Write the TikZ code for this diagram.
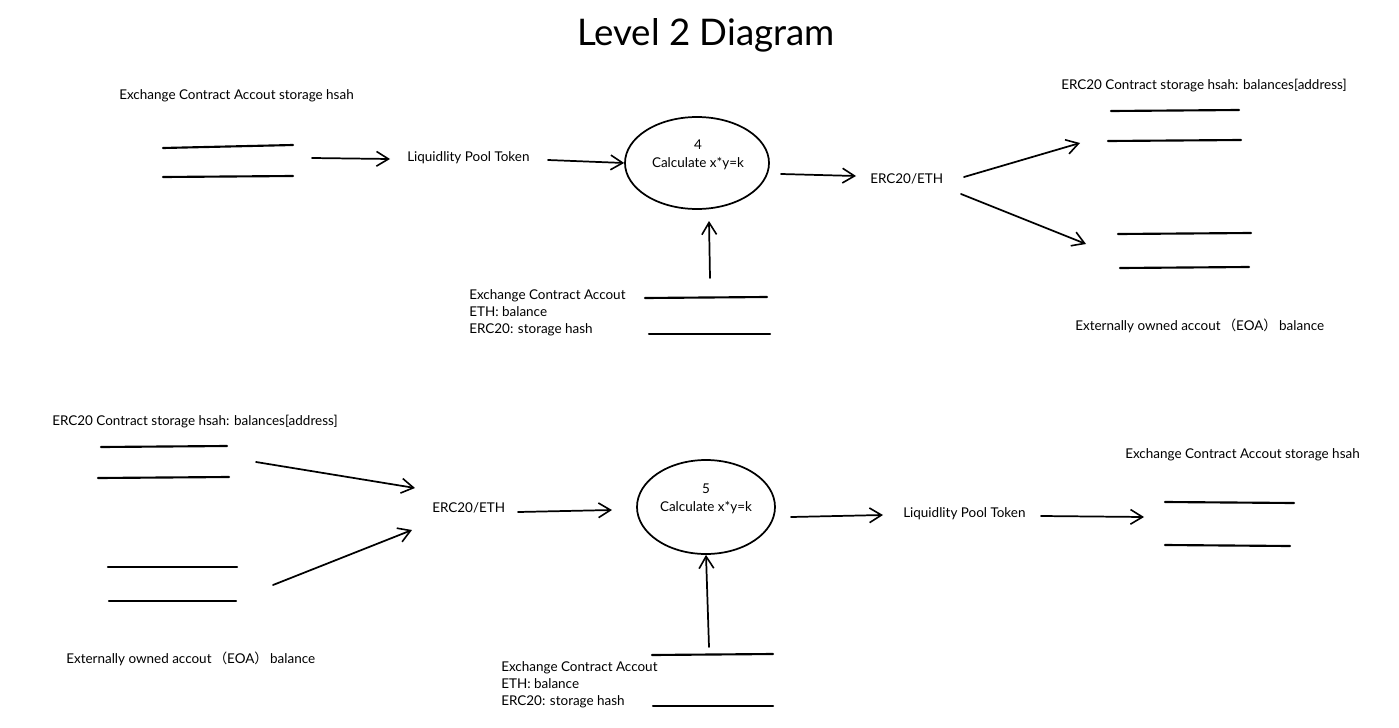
\documentclass[tikz,border=0pt]{standalone}
\usepackage{fontspec}
\setmainfont{Lato}
\newfontfamily\cjk{Noto Sans CJK SC}
\usetikzlibrary{arrows.meta,shapes.geometric}
\tikzset{
  txt/.style={inner sep=0pt, anchor=west, font=\fontsize{10.1pt}{12pt}\selectfont},
  store/.style={line width=1.6pt, line cap=round},
  flow/.style={line width=1.3pt, line cap=round, -{Straight Barb[length=9pt,width=11pt,line width=1.2pt]}},
  proc/.style={ellipse, draw, line width=1.3pt, inner sep=0pt},
  proclabel/.style={inner sep=0pt, align=center, font=\fontsize{10.1pt}{13.5pt}\selectfont},
  stacktxt/.style={txt, align=left, anchor=north west, font=\fontsize{10.1pt}{12.8pt}\selectfont},
}
\begin{document}
\begin{tikzpicture}[x=0.75pt,y=-0.75pt]
\useasboundingbox (0,0) rectangle (1399,728);
\node[font=\fontsize{27.5pt}{32pt}\selectfont] (title) at (706,35) {Level 2 Diagram};

% ---------- upper diagram ----------
\node[txt] (exA) at (119,96) {Exchange Contract Accout storage hsah};
\coordinate (exA1) at (163,148); \coordinate (exA2) at (293,145);
\coordinate (exA3) at (163,177); \coordinate (exA4) at (293,176);
\draw[store] (exA1) -- (exA2);
\draw[store] (exA3) -- (exA4);
\node[txt] (lpA) at (407,158) {Liquidlity Pool Token};
\node[proc, minimum width=108pt, minimum height=69pt] (p4) at (697,163) {};
\node[proclabel] (p4t) at (698,155) {4\\Calculate x*y=k};
\node[txt] (ethA) at (870,179) {ERC20/ETH};
\node[txt] (ercA) at (1061,86) {ERC20 Contract storage hsah: balances[address]};
\coordinate (ercA1) at (1111,111); \coordinate (ercA2) at (1239,110);
\coordinate (ercA3) at (1108,141); \coordinate (ercA4) at (1241,140);
\draw[store] (ercA1) -- (ercA2);
\draw[store] (ercA3) -- (ercA4);
\coordinate (eoaA1) at (1118,234); \coordinate (eoaA2) at (1251,233);
\coordinate (eoaA3) at (1120,268); \coordinate (eoaA4) at (1249,267);
\draw[store] (eoaA1) -- (eoaA2);
\draw[store] (eoaA3) -- (eoaA4);
\node[txt] (eoaA) at (1075,326) {Externally owned accout\,{\cjk （}EOA{\cjk ）}\,balance};
\coordinate (scA1) at (645,298); \coordinate (scA2) at (767,297);
\coordinate (scA3) at (649,334); \coordinate (scA4) at (770,334);
\draw[store] (scA1) -- (scA2);
\draw[store] (scA3) -- (scA4);
\node[stacktxt] (scA) at (469,289) {Exchange Contract Accout\\ETH: balance\\ERC20: storage hash};

% upper arrows
\coordinate (a1s) at (312,158); \coordinate (a1e) at (390,159);
\draw[flow] (a1s) -- (a1e);
\coordinate (a2s) at (548,160);
\draw[flow] (a2s) -- (p4.west);
\coordinate (a3s) at (781,174); \coordinate (a3e) at (856,176);
\draw[flow] (a3s) -- (a3e);
\coordinate (a4s) at (964,177); \coordinate (a4e) at (1080,143);
\draw[flow] (a4s) -- (a4e);
\coordinate (a5s) at (961,194); \coordinate (a5e) at (1086,244);
\draw[flow] (a5s) -- (a5e);
\coordinate (a6s) at (710,278); \coordinate (a6e) at (709,221);
\draw[flow] (a6s) -- (a6e);

% ---------- lower diagram ----------
\node[txt] (ercB) at (52,422) {ERC20 Contract storage hsah: balances[address]};
\coordinate (ercB1) at (101,447); \coordinate (ercB2) at (227,446);
\coordinate (ercB3) at (98,478); \coordinate (ercB4) at (229,477);
\draw[store] (ercB1) -- (ercB2);
\draw[store] (ercB3) -- (ercB4);
\coordinate (eoaB1) at (108,567); \coordinate (eoaB2) at (237,567);
\coordinate (eoaB3) at (109,601); \coordinate (eoaB4) at (236,601);
\draw[store] (eoaB1) -- (eoaB2);
\draw[store] (eoaB3) -- (eoaB4);
\node[txt] (eoaB) at (66,659) {Externally owned accout\,{\cjk （}EOA{\cjk ）}\,balance};
\node[txt] (ethB) at (432,508) {ERC20/ETH};
\node[proc, minimum width=103.5pt, minimum height=70.5pt] (p5) at (706,507) {};
\node[proclabel] (p5t) at (706,499) {5\\Calculate x*y=k};
\node[txt] (lpB) at (903,514) {Liquidlity Pool Token};
\node[txt] (exB) at (1125,455) {Exchange Contract Accout storage hsah};
\coordinate (exB1) at (1165,502); \coordinate (exB2) at (1294,503);
\coordinate (exB3) at (1165,545); \coordinate (exB4) at (1290,546);
\draw[store] (exB1) -- (exB2);
\draw[store] (exB3) -- (exB4);
\coordinate (scB1) at (652,655); \coordinate (scB2) at (773,654);
\coordinate (scB3) at (653,706); \coordinate (scB4) at (773,706);
\draw[store] (scB1) -- (scB2);
\draw[store] (scB3) -- (scB4);
\node[stacktxt] (scB) at (501,661) {Exchange Contract Accout\\ETH: balance\\ERC20: storage hash};

% lower arrows
\coordinate (b1s) at (256,462); \coordinate (b1e) at (415,488);
\draw[flow] (b1s) -- (b1e);
\coordinate (b2s) at (273,585); \coordinate (b2e) at (412,530);
\draw[flow] (b2s) -- (b2e);
\coordinate (b3s) at (518,512); \coordinate (b3e) at (612,510);
\draw[flow] (b3s) -- (b3e);
\coordinate (b4s) at (791,517); \coordinate (b4e) at (883,515);
\draw[flow] (b4s) -- (b4e);
\coordinate (b5s) at (1041,516); \coordinate (b5e) at (1144,517);
\draw[flow] (b5s) -- (b5e);
\coordinate (b6s) at (709,647);
\draw[flow] (b6s) -- (p5.south);
\end{tikzpicture}
\end{document}
